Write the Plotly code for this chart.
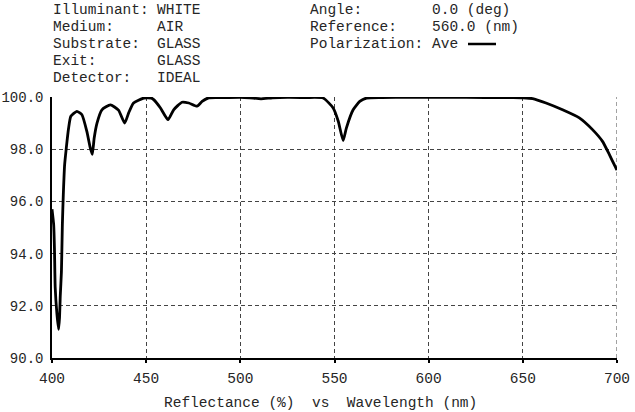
import plotly.graph_objects as go

# ---- data ----
wavelength = [400, 400.9, 401.3, 401.7, 402.6, 403.5, 404.0, 404.4, 405.0, 405.5, 406.0,
              406.7, 407.6, 408.8, 410.0, 413.2, 415.9, 418.5, 420.3, 421.4, 422.4,
              423.9, 426.5, 431.0, 435.3, 438.6, 440.7, 443.3, 448.7, 452.8, 454.0,
              457.6, 461.6, 464.6, 469.0, 472.6, 477.0, 479.7, 483.2, 490.0, 500.0,
              505.0, 511.0, 517.0, 525.0, 535.0, 544.0, 549.3, 552.0, 554.6, 556.3,
              559.9, 563.4, 567.0, 575.0, 590.0, 610.0, 630.0, 645.0, 650.0, 655.2,
              662.3, 671.1, 680.0, 687.0, 692.3, 695.9, 699.4, 700.0]
reflectance = [95.7, 95.1, 94.2, 92.7, 91.7, 91.1, 91.55, 92.4, 93.3, 95.1, 96.25,
               97.4, 98.05, 98.8, 99.26, 99.45, 99.32, 98.68, 98.06, 97.8, 98.43,
               99.0, 99.51, 99.7, 99.5, 99.0, 99.39, 99.77, 99.96, 99.96, 99.9,
               99.58, 99.13, 99.51, 99.8, 99.77, 99.65, 99.83, 99.97, 99.98, 99.99,
               99.97, 99.93, 99.97, 99.99, 99.98, 99.96, 99.58, 99.07, 98.33, 98.81,
               99.51, 99.83, 99.96, 99.98, 99.99, 99.99, 99.98, 99.98, 99.97, 99.94,
               99.77, 99.51, 99.2, 98.75, 98.3, 97.8, 97.28, 97.2]

x_ticks = [400, 450, 500, 550, 600, 650, 700]
y_ticks = [90, 92, 94, 96, 98, 100]

header_left_labels = ["Illuminant:", "Medium:", "Substrate:", "Exit:", "Detector:"]
header_left_values = ["WHITE", "AIR", "GLASS", "GLASS", "IDEAL"]
header_right_labels = ["Angle:", "Reference:", "Polarization:"]
header_right_values = ["0.0 (deg)", "560.0 (nm)", "Ave"]
x_title = "Reflectance (%)  vs  Wavelength (nm)"

# ---- layout geometry (pixels) ----
W, H = 635, 412
L, R, T, B = 52, 18, 97, 54
PW, PH = W - L - R, H - T - B
FONT = "Liberation Mono, Courier New, monospace"
TXT = "#262626"
FS = 14.5
GRID = "#444"


def px(x):
    return (x - L) / PW


def py(y):
    return (H - B - y) / PH


fig = go.Figure()
fig.add_trace(go.Scatter(x=wavelength, y=reflectance, mode="lines",
                         line=dict(color="black", width=2.8, shape="spline", smoothing=0.5),
                         showlegend=False, hoverinfo="skip"))

annotations = []
row_y = [10, 27, 44, 61, 78]
for i, (lab, val) in enumerate(zip(header_left_labels, header_left_values)):
    annotations.append(dict(x=px(52), y=py(row_y[i]), text=lab))
    annotations.append(dict(x=px(156), y=py(row_y[i]), text=val))
for i, (lab, val) in enumerate(zip(header_right_labels, header_right_values)):
    annotations.append(dict(x=px(309), y=py(row_y[i]), text=lab))
    annotations.append(dict(x=px(431), y=py(row_y[i]), text=val))
for a in annotations:
    a.update(xref="paper", yref="paper", xanchor="left", yanchor="middle",
             showarrow=False, borderpad=0,
             font=dict(family=FONT, size=FS, color=TXT))
annotations.append(dict(x=px(320), y=py(403), xref="paper", yref="paper",
                        xanchor="center", yanchor="middle", showarrow=False,
                        text=x_title, font=dict(family=FONT, size=FS, color=TXT)))

shapes = [
    dict(type="line", xref="paper", yref="paper",
         x0=px(468), x1=px(496), y0=py(44), y1=py(44),
         line=dict(color="black", width=2.5)),
    # dashed border at the right end of the wavelength range
    dict(type="line", xref="x", yref="paper", x0=x_ticks[-1], x1=x_ticks[-1], y0=0, y1=1,
         layer="below", line=dict(color=GRID, width=1, dash="4px,3px")),
]

fig.update_layout(
    width=W, height=H,
    margin=dict(l=L, r=R, t=T, b=B, pad=0, autoexpand=False),
    paper_bgcolor="white", plot_bgcolor="white",
    annotations=annotations, shapes=shapes,
    font=dict(family=FONT, size=FS, color=TXT),
    xaxis=dict(range=[400, 700], tickvals=x_ticks, ticktext=[str(v) for v in x_ticks],
               showgrid=True, gridcolor=GRID, griddash="4px,3px", gridwidth=1,
               showline=True, linecolor="black", linewidth=2,
               ticks="outside", ticklen=3, tickcolor="black", tickwidth=1.5,
               ticklabelstandoff=3, automargin=False,
               zeroline=False, fixedrange=True,
               tickfont=dict(family=FONT, size=FS, color=TXT)),
    yaxis=dict(range=[90, 100], tickvals=y_ticks, ticktext=[f"{v:.1f}" for v in y_ticks],
               showgrid=True, gridcolor=GRID, griddash="4px,3px", gridwidth=1,
               showline=True, linecolor="black", linewidth=1.5,
               ticks="", zeroline=False, fixedrange=True, ticklabelstandoff=4,
               automargin=False,
               tickfont=dict(family=FONT, size=14, color=TXT)),
)

fig.write_html("out.html")
